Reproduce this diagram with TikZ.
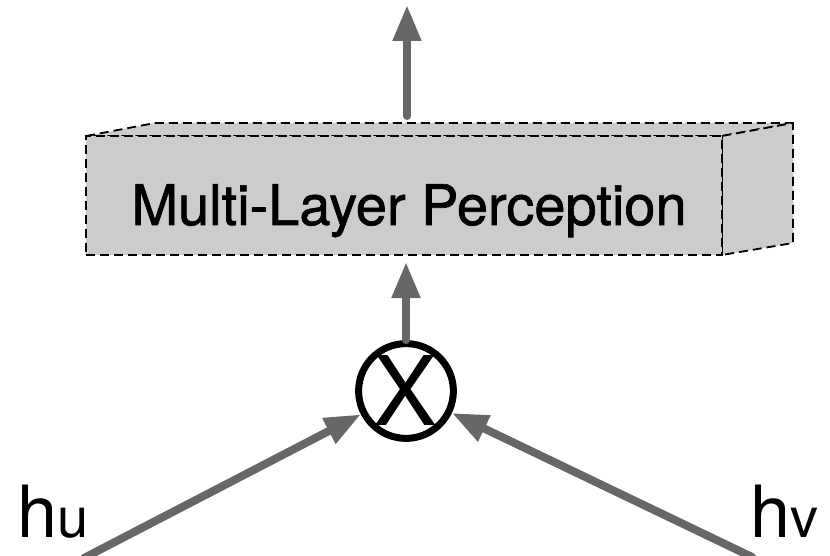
\documentclass[tikz,border=0pt]{standalone}
\usepackage{fontspec}
\setmainfont{TeX Gyre Heros}
\newfontfamily\mlpfont[FakeBold=1.2]{TeX Gyre Heros}
\usetikzlibrary{arrows.meta}
\definecolor{boxgray}{HTML}{CCCCCC}
\definecolor{arrowgray}{HTML}{676767}
\begin{document}
\begin{tikzpicture}[x=1pt,y=-1pt,
  face/.style={draw=black,fill=boxgray,line width=1.8pt,dash pattern=on 9pt off 5pt,line join=miter},
  flow/.style={draw=arrowgray,line width=8pt,line cap=round,-{Triangle[length=36pt,width=27pt]}},
]
\useasboundingbox (0,0) rectangle (830,556);

% corners of the block (front face and depth offset)
\coordinate (ftl) at (86,136);
\coordinate (ftr) at (722,136);
\coordinate (fbr) at (722,255);
\coordinate (btl) at (155,123);
\coordinate (btr) at (793,123);
\coordinate (bbr) at (793,243);

% top and side faces of the block
\path[face] (ftl) -- (btl) -- (btr) -- (ftr) -- cycle;
\path[face] (ftr) -- (btr) -- (bbr) -- (fbr) -- cycle;

% front face
\node[face,anchor=north west,minimum width=636pt,minimum height=119pt,
      inner sep=0pt,outer sep=0pt] (mlp) at (ftl) {};
\node[anchor=base,inner sep=0pt,font=\mlpfont\fontsize{56}{60}\selectfont] (mlplabel) at (409,225) {Multi-Layer Perception};

% product node
\node[circle,draw=black,line width=7pt,minimum size=94pt,inner sep=0pt,
      font=\fontsize{96}{96}\selectfont] (mul) at (406,391) {X};

% inputs
\node[anchor=base west,inner sep=0pt] (hu) at (17,537)
  {\fontsize{72}{72}\selectfont h\fontsize{56}{56}\selectfont u};
\node[anchor=base east,inner sep=0pt] (hv) at (819,537)
  {\fontsize{72}{72}\selectfont h\fontsize{56}{56}\selectfont v};

% connectors
\coordinate (uin) at (84,558);
\coordinate (vin) at (752,557);
\coordinate (mlptop) at (407,116);
\coordinate (out) at (407,5);

\draw[flow] (uin) -- (mul);
\draw[flow] (vin) -- (mul);
\draw[flow,shorten >=7pt] (mul.north) -- (mul.north |- mlp.south);
\draw[flow] (mlptop) -- (out);
\end{tikzpicture}
\end{document}
